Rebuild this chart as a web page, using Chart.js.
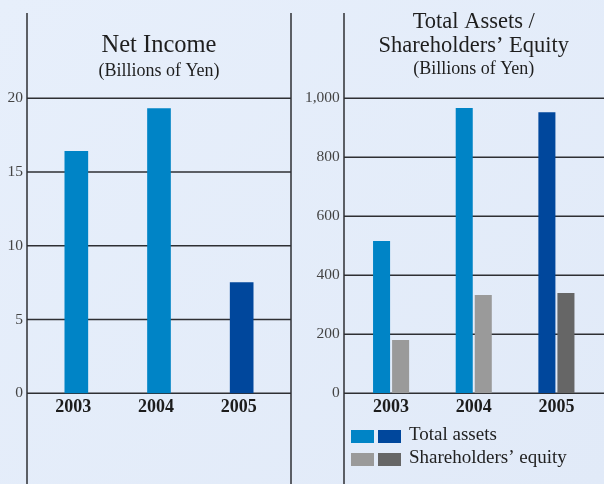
<!DOCTYPE html>
<html>
<head>
<meta charset="utf-8">
<title>Net Income / Total Assets</title>
<script src="https://cdn.jsdelivr.net/npm/chart.js"></script>
<style>
  html, body { margin: 0; padding: 0; }
  body {
    width: 604px; height: 484px; overflow: hidden; position: relative;
    background: linear-gradient(135deg, #e7effb 0%, #e1eaf8 100%);
  }
  canvas { position: absolute; top: 0; }
  #income { left: 0; }
  #assets { left: 300px; }
</style>
</head>
<body>
<canvas id="income" width="300" height="484"></canvas>
<canvas id="assets" width="304" height="484"></canvas>
<script>
const years = ['2003', '2004', '2005'];
const netIncome = [16.4, 19.3, 7.5];
const totalAssets = [516, 967, 953];
const shareholdersEquity = [181, 333, 340];
const incomeTicks = [0, 5, 10, 15, 20];
const assetTicks = [0, 200, 400, 600, 800, 1000];

const lightBlue = '#0084c6';
const darkBlue = '#00479c';
const lightGrey = '#9a9a9a';
const darkGrey = '#666666';
const serif = '"Liberation Serif", "Times New Roman", serif';

// gridlines + the vertical rules of each panel (they run past the chart area)
const panelFrame = {
  id: 'panelFrame',
  beforeDatasetsDraw(chart, args, opts) {
    const ctx = chart.ctx, y = chart.scales.y;
    ctx.save();
    ctx.strokeStyle = '#2e2f33';
    ctx.lineWidth = 1.5;
    y.ticks.forEach(t => {
      const py = y.getPixelForValue(t.value);
      ctx.beginPath();
      ctx.moveTo(opts.gridFrom, py);
      ctx.lineTo(opts.gridTo, py);
      ctx.stroke();
    });
    opts.rules.forEach(x => {
      ctx.beginPath();
      ctx.moveTo(x, 13);
      ctx.lineTo(x, chart.height);
      ctx.stroke();
    });
    ctx.restore();
  }
};

// legend with two swatches per series (earlier years / latest year)
const pairLegend = {
  id: 'pairLegend',
  afterDraw(chart, args, opts) {
    const ctx = chart.ctx, left = chart.chartArea.left;
    ctx.save();
    ctx.font = '19px ' + serif;
    chart.data.datasets.forEach((ds, i) => {
      const top = opts.top + i * opts.rowGap;
      ctx.fillStyle = ds.backgroundColor[0];
      ctx.fillRect(left + 1.25, top, 23, 13);
      ctx.fillStyle = ds.backgroundColor[2];
      ctx.fillRect(left + 28.25, top, 23, 13);
      ctx.fillStyle = '#222';
      ctx.fillText(ds.label, left + 59.25, top + 10);
    });
    ctx.restore();
  }
};

function yAxis(ticks, width, pad, max) {
  return {
    min: 0,
    max: max,
    afterBuildTicks: s => { s.ticks = ticks.map(v => ({ value: v })); },
    afterFit: s => { s.width = width; },
    grid: { display: false, drawTicks: false },
    border: { display: false },
    ticks: {
      padding: pad,
      color: '#444',
      font: { family: serif, size: 15.5 },
      callback: v => v.toLocaleString('en-US')
    }
  };
}

function xAxis(offset) {
  return {
    afterFit: s => { s.height = 90.7; },
    grid: { display: false, drawTicks: false },
    border: { display: false },
    ticks: {
      padding: 3,
      labelOffset: offset,
      color: '#1c1c1c',
      font: { family: serif, size: 18, weight: 'bold' }
    }
  };
}

new Chart(document.getElementById('income'), {
  type: 'bar',
  data: {
    labels: years,
    datasets: [{
      label: 'Net income',
      data: netIncome,
      backgroundColor: [lightBlue, lightBlue, darkBlue],
      barThickness: 23
    }]
  },
  options: {
    responsive: false,
    animation: false,
    layout: { padding: { left: 0, right: 17, top: 0, bottom: 0 } },
    scales: { x: xAxis(-3), y: yAxis(incomeTicks, 35, 12, 20) },
    plugins: {
      legend: { display: false },
      tooltip: { enabled: false },
      title: {
        display: true,
        fullSize: false,
        text: 'Net Income',
        color: '#1e1e1e',
        font: { family: serif, size: 24.5, weight: 'normal', lineHeight: 1.2 },
        padding: { top: 31, bottom: 0 }
      },
      subtitle: {
        display: true,
        fullSize: false,
        text: '(Billions of Yen)',
        color: '#1e1e1e',
        font: { family: serif, size: 18, lineHeight: 1.2 },
        padding: { top: 0.4, bottom: 15.9 }
      },
      panelFrame: { gridFrom: 27, gridTo: 291, rules: [27, 291] }
    }
  },
  plugins: [panelFrame]
});

new Chart(document.getElementById('assets'), {
  type: 'bar',
  data: {
    labels: years,
    datasets: [{
      label: 'Total assets',
      data: totalAssets,
      backgroundColor: [lightBlue, lightBlue, darkBlue],
      categoryPercentage: 0.4606,
      barPercentage: 0.895
    }, {
      label: 'Shareholders\u2019 equity',
      data: shareholdersEquity,
      backgroundColor: [lightGrey, lightGrey, darkGrey],
      categoryPercentage: 0.4606,
      barPercentage: 0.895
    }]
  },
  options: {
    responsive: false,
    animation: false,
    layout: { padding: { left: 0, right: 6.25, top: 0, bottom: 0 } },
    scales: { x: xAxis(0), y: yAxis(assetTicks, 49.75, 10, 1000) },
    plugins: {
      legend: { display: false },
      tooltip: { enabled: false },
      title: {
        display: true,
        fullSize: false,
        text: ['Total Assets /', 'Shareholders\u2019 Equity'],
        color: '#1e1e1e',
        font: { family: serif, size: 22.5, weight: 'normal', lineHeight: 1.07 },
        padding: { top: 10, bottom: 0 }
      },
      subtitle: {
        display: true,
        fullSize: false,
        text: '(Billions of Yen)',
        color: '#1e1e1e',
        font: { family: serif, size: 18, lineHeight: 1.2 },
        padding: { top: 0, bottom: 18.55 }
      },
      panelFrame: { gridFrom: 44, gridTo: 304, rules: [44] },
      pairLegend: { top: 430, rowGap: 23 }
    }
  },
  plugins: [panelFrame, pairLegend]
});
</script>
</body>
</html>
